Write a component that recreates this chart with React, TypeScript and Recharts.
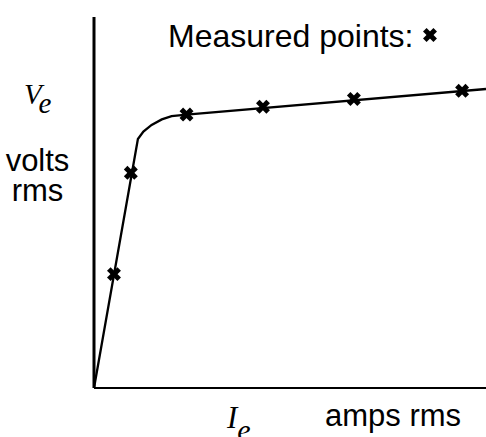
import React from "react";
import { ComposedChart, Line, Scatter, XAxis, YAxis, ReferenceLine } from "recharts";

// Magnetisation curve (arbitrary units, 0..100 on each axis)
const curveCurrent = [0, 11.2, 12.6, 14.7, 17.3, 19.8, 23.6, 100];
const curveVoltage = [0, 67.1, 69.1, 70.9, 72.4, 73.3, 73.7, 80.6];

// Measured points
const measuredCurrent = [5.1, 9.4, 23.6, 43.1, 66.3, 93.9];
const measuredVoltage = [30.7, 58.0, 73.7, 75.8, 77.9, 80.1];

const curveData = curveCurrent.map((x, i) => ({ x, y: curveVoltage[i] }));
const measuredData = measuredCurrent.map((x, i) => ({ x, y: measuredVoltage[i] }));

const W = 486;
const H = 437;
const SANS = "'Liberation Sans', Arial, sans-serif";
const SERIF = "'Liberation Serif', 'Times New Roman', serif";

const Cross = (props: any) => {
  const { cx, cy } = props;
  if (cx == null || cy == null) return null;
  const r = 5.2;
  return (
    <g>
      <line x1={cx - r} y1={cy - r} x2={cx + r} y2={cy + r} stroke="#000" strokeWidth={5} />
      <line x1={cx - r} y1={cy + r} x2={cx + r} y2={cy - r} stroke="#000" strokeWidth={5} />
    </g>
  );
};

export default function App() {
  return (
    <div style={{ position: "absolute", left: 0, top: 0, width: W, height: H, background: "#fff" }}>
      <ComposedChart
        width={W}
        height={H}
        margin={{ top: 17, right: 0, bottom: 49, left: 94 }}
      >
        <XAxis type="number" dataKey="x" domain={[0, 100]} hide />
        <YAxis type="number" dataKey="y" domain={[0, 100]} hide />
        <ReferenceLine x={0} stroke="#000" strokeWidth={3} />
        <ReferenceLine y={0} stroke="#000" strokeWidth={2.2} />
        <Line
          data={curveData}
          dataKey="y"
          type="linear"
          stroke="#000"
          strokeWidth={2.3}
          dot={false}
          activeDot={false}
          isAnimationActive={false}
        />
        <Scatter
          data={measuredData}
          dataKey="y"
          shape={Cross}
          isAnimationActive={false}
        />
      </ComposedChart>
      <svg
        width={W}
        height={H}
        style={{ position: "absolute", left: 0, top: 0, pointerEvents: "none" }}
      >
        <text x={168} y={46.5} fontFamily={SANS} fontSize={32} fill="#000">
          Measured points:
        </text>
        <Cross cx={430} cy={35} />
        <text x={24} y={104} fontFamily={SERIF} fontStyle="italic" fontSize={29} fill="#000">
          V
          <tspan dy={9} fontSize={29}>e</tspan>
        </text>
        <text x={37.5} y={171} textAnchor="middle" fontFamily={SANS} fontSize={31} fill="#000">
          volts
        </text>
        <text x={37.5} y={201} textAnchor="middle" fontFamily={SANS} fontSize={31} fill="#000">
          rms
        </text>
        <text x={227} y={428} fontFamily={SERIF} fontStyle="italic" fontSize={31} fill="#000">
          I
          <tspan dy={12} fontSize={30}>e</tspan>
        </text>
        <text x={325} y={426} fontFamily={SANS} fontSize={31} fill="#000">
          amps rms
        </text>
      </svg>
    </div>
  );
}
